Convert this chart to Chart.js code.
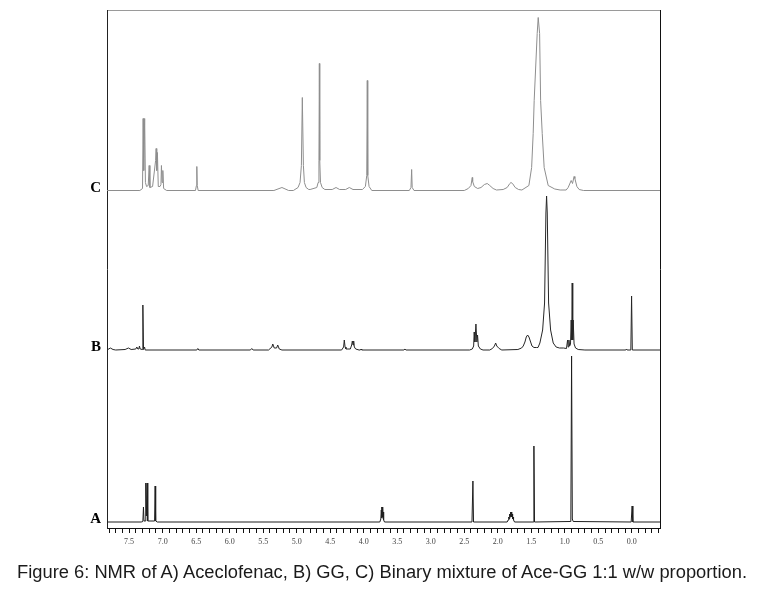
<!DOCTYPE html>
<html><head><meta charset="utf-8">
<script src="https://cdn.jsdelivr.net/npm/chart.js@4/dist/chart.umd.min.js"></script>
<style>
html,body{margin:0;padding:0;background:#fff;width:757px;height:589px;overflow:hidden}
#wrap{position:relative;width:757px;height:589px}
#c{position:absolute;left:0;top:0}
#cap{position:absolute;left:17px;top:563px;font-size:18px;line-height:18px;font-family:"Liberation Sans Narrow","Liberation Sans",Arial,sans-serif;color:#1a1a1a;white-space:nowrap;transform-origin:0 0}
</style></head><body>
<div id="wrap"><canvas id="c" width="757" height="589"></canvas>
<div id="cap">Figure 6: NMR of A) Aceclofenac, B) GG, C) Binary mixture of Ace-GG 1:1 w/w proportion.</div></div>
<script>
// ---- data (chemical shift in ppm, intensity in arbitrary units) ----
const spectrumLabels = ['A', 'B', 'C'];

const ppmA = [7.83,7.32,7.295,7.286,7.278,7.258,7.251,7.243,7.231,7.222,7.12,7.112,7.104,7.08,
  3.76,3.745,3.738,3.733,3.728,3.722,3.717,3.712,3.706,3.70,3.69,
  2.385,2.371,2.362,
  1.86,1.845,1.836,1.830,1.823,1.817,1.811,1.805,1.798,1.792,1.786,1.779,1.773,1.765,1.75,
  1.47,1.461,1.452,0.92,0.910,0.899,0.888,0.875,0.01,-0.004,-0.015,-0.42];
const intA = [0,0,0.5,15,1,1,39,6,39,1,1,36,1,0,
  0,3,12,4,15,5,15,4,10,2,0,
  0,41,0,
  0,2,5,3,8,5,10,6,10,5,8,3,5,2,0,
  0,76,0,0.5,3,166,3,0.5,0,16,0,0];

const ppmB = [7.83,7.78,7.74,7.70,7.56,7.51,7.47,7.40,7.385,7.37,7.355,7.346,7.335,7.305,7.295,7.285,7.27,7.26,
  6.49,6.475,6.46,5.69,5.67,5.65,
  5.42,5.37,5.357,5.335,5.30,5.283,5.26,5.22,
  4.33,4.30,4.290,4.278,4.265,4.20,4.18,4.170,4.160,4.150,4.14,4.12,4.07,4.05,4.04,4.03,
  3.40,3.385,3.37,
  2.42,2.38,2.36,2.352,2.342,2.326,2.312,2.302,2.29,2.26,2.22,
  2.12,2.08,2.05,2.032,2.015,1.98,1.94,
  1.70,1.645,1.62,1.595,1.575,1.555,1.535,1.510,1.49,1.46,1.42,
  1.40,1.372,1.331,1.302,1.282,1.272,1.262,1.242,1.212,1.173,1.13,1.08,1.02,
  0.975,0.959,0.950,0.939,0.928,0.915,0.905,0.897,0.890,0.882,0.875,0.862,0.84,0.80,0.70,
  0.09,0.08,0.07,0.015,0.004,-0.007,-0.42];
const intB = [0,2,0.5,0,0.5,2,0.5,1,3,1,1,4,1,0.5,45,0.5,3,0,
  0,1.5,0,0,1.5,0,
  0,3,6,2,2,5,1,0,
  0,3,10,3,1,1,5,9,5,9,3,1,0,0,1,0,
  0,1,0,
  0,1,4,18,8,26,8,15,4,1,0,
  0,1.5,4,7,4,1.5,0,
  0.5,2,4,8,13,15,13,8,4,2.5,2.5,
  2.5,7,20,47,137,154,137,47,20,7,3,2,2,
  1.5,10,3,10,4,6,30,10,67,10,30,6,2,0.5,0,
  0,1,0,0,54,0,0];

const ppmC = [7.83,7.34,7.30,7.291,7.282,7.268,7.257,7.24,7.215,7.201,7.19,7.15,7.105,7.097,7.088,7.078,7.065,7.04,7.025,7.018,7.008,6.997,6.985,6.94,
  6.51,6.496,6.490,6.484,6.47,
  5.34,5.22,5.12,
  5.05,4.98,4.95,4.93,4.916,4.90,4.885,4.86,4.82,
  4.80,4.70,4.68,4.668,4.662,4.656,4.645,4.62,4.58,
  4.47,4.413,4.36,4.27,4.215,4.16,
  4.02,3.975,3.955,3.947,3.940,3.92,3.88,
  3.32,3.295,3.285,3.277,3.25,
  2.50,2.44,2.40,2.381,2.375,2.35,2.30,2.25,2.20,2.157,2.12,2.07,2.02,1.92,1.86,1.82,1.804,1.78,1.74,1.69,
  1.64,1.536,1.495,1.472,1.457,1.412,1.397,1.376,1.361,1.337,1.308,1.248,1.15,1.07,
  0.98,0.95,0.905,0.885,0.862,0.850,0.82,0.786,0.72,-0.42];
const intC = [0,0,2,72,20,72,8,4,5,25,3,4,30,42,20,38,4,4,6,25,8,20,2,0,
  0,5,24,5,0,
  0,3,0,
  0,3,8,25,93,25,8,3,1,
  1,3,8,30,127,30,8,3,1,
  1,3,1,1,3,1,
  1,4,15,110,15,4,0,
  0,3,21,3,0,
  0,2,5,13,9,4,2,3,6,7,5,2,0.5,1,3,7,8,7,3,1,
  0.5,5,23,57,90,157,173,157,90,57,23,5,1.5,0.5,
  0.5,3,10,7,14,12,4,1,0,0];

// x-axis tick labels (ppm)
const tickLabels = ['7.5','7.0','6.5','6.0','5.5','5.0','4.5','4.0','3.5','3.0','2.5','2.0','1.5','1.0','0.5','0.0'];

// ---- layout / stacking settings ----
const xRange = {min: -0.42, max: 7.83};
const yRange = {min: 0, max: 518};
const stackOffsets = {A: 6, B: 178, C: 337.5};
const lineColors = {A: '#1e1e1e', B: '#262626', C: '#8e8e8e'};

function toPoints(ppm, inten, off) {
  return ppm.map((p, i) => ({x: p, y: inten[i] + off}));
}

const datasets = [
  {label: 'C', data: toPoints(ppmC, intC, stackOffsets.C), borderColor: lineColors.C},
  {label: 'B', data: toPoints(ppmB, intB, stackOffsets.B), borderColor: lineColors.B},
  {label: 'A', data: toPoints(ppmA, intA, stackOffsets.A), borderColor: lineColors.A}
].map(d => Object.assign(d, {borderWidth: 1, pointRadius: 0, tension: 0, fill: false}));

const letterPlugin = {
  id: 'letters',
  afterDraw(chart) {
    const ctx = chart.ctx, y = chart.scales.y, area = chart.chartArea;
    ctx.save();
    ctx.font = 'bold 15px "Liberation Serif", "Times New Roman", serif';
    ctx.fillStyle = '#000';
    ctx.textAlign = 'right';
    ctx.textBaseline = 'alphabetic';
    spectrumLabels.forEach(l => {
      ctx.fillText(l, area.left - 6, y.getPixelForValue(stackOffsets[l]) + 1);
    });
    ctx.restore();
  }
};

const tickValues = [];
for (let k = 78; k >= -4; k--) tickValues.push(k / 10);

new Chart(document.getElementById('c'), {
  type: 'line',
  data: {datasets},
  plugins: [letterPlugin],
  options: {
    responsive: false,
    animation: false,
    events: [],
    layout: {padding: {left: 107, right: 97, top: 10, bottom: 39}},
    plugins: {legend: {display: false}, tooltip: {enabled: false}, title: {display: false}},
    scales: {
      x: {
        type: 'linear', position: 'bottom', reverse: true, min: xRange.min, max: xRange.max,
        afterBuildTicks: s => { s.ticks = tickValues.map(v => ({value: v})); },
        afterFit: s => { s.height = 22; },
        grid: {drawOnChartArea: false, drawTicks: true, tickLength: 5, tickColor: '#111', lineWidth: 1},
        border: {display: true, color: '#111', width: 1},
        ticks: {
          autoSkip: false, maxRotation: 0, minRotation: 0, padding: 4,
          color: '#444', font: {family: '"Liberation Serif", "Times New Roman", serif', size: 8},
          callback: v => { const t = tickLabels.find(l => Math.abs(parseFloat(l) - v) < 1e-6); return t || ''; }
        }
      },
      xT: {
        type: 'linear', position: 'top', min: xRange.min, max: xRange.max, reverse: true,
        afterFit: s => { s.height = 0; },
        grid: {display: false}, ticks: {display: false},
        border: {display: true, color: '#9a9a9a', width: 1}
      },
      y: {
        type: 'linear', position: 'left', min: yRange.min, max: yRange.max,
        afterFit: s => { s.width = 0; },
        grid: {display: false}, ticks: {display: false},
        border: {display: true, color: '#222', width: 1}
      },
      yR: {
        type: 'linear', position: 'right', min: yRange.min, max: yRange.max,
        afterFit: s => { s.width = 0; },
        grid: {display: false}, ticks: {display: false},
        border: {display: true, color: '#111', width: 1}
      }
    }
  }
});

// fit caption width to the reference
const cap = document.getElementById('cap');
const w = cap.getBoundingClientRect().width;
cap.style.transform = 'scaleX(' + (730 / w) + ')';
</script>
</body></html>
